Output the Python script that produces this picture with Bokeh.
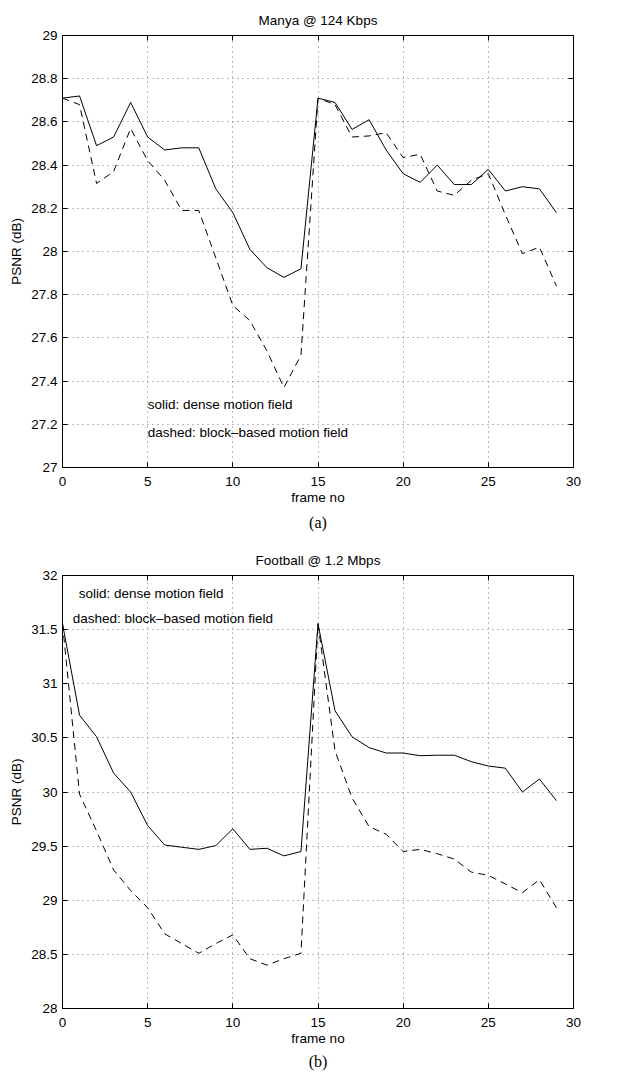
from bokeh.plotting import figure
from bokeh.models import LinearAxis, FixedTicker, Title, ColumnDataSource, CustomLabelingPolicy
from bokeh.layouts import column
from bokeh.core.properties import value
from bokeh.embed import file_html
from bokeh.resources import INLINE

frames = list(range(30))

manya_dense = [28.71, 28.72, 28.49, 28.53, 28.69, 28.53, 28.47, 28.48, 28.48, 28.29,
               28.18, 28.01, 27.925, 27.88, 27.92, 28.71, 28.69, 28.565, 28.61, 28.47,
               28.36, 28.32, 28.40, 28.31, 28.31, 28.38, 28.28, 28.30, 28.29, 28.18]
manya_block = [28.71, 28.68, 28.315, 28.37, 28.57, 28.42, 28.33, 28.19, 28.19, 27.97,
               27.75, 27.68, 27.54, 27.37, 27.52, 28.71, 28.68, 28.53, 28.535, 28.55,
               28.435, 28.45, 28.28, 28.26, 28.33, 28.36, 28.17, 27.99, 28.02, 27.84]

football_dense = [31.555, 30.71, 30.51, 30.175, 30.0, 29.69, 29.51, 29.49, 29.47, 29.505,
                  29.66, 29.47, 29.48, 29.41, 29.45, 31.555, 30.75, 30.51, 30.41, 30.36,
                  30.36, 30.335, 30.34, 30.34, 30.28, 30.24, 30.22, 30.0, 30.12, 29.92]
football_block = [31.555, 29.98, 29.64, 29.28, 29.09, 28.93, 28.69, 28.60, 28.51, 28.60,
                  28.68, 28.46, 28.40, 28.46, 28.51, 31.555, 30.38, 29.945, 29.68, 29.61,
                  29.45, 29.47, 29.43, 29.38, 29.26, 29.23, 29.15, 29.07, 29.19, 28.93]

x_ticks = [0, 5, 10, 15, 20, 25, 30]
x_tick_labels = ["0", "5", "10", "15", "20", "25", "30"]

manya_y_ticks = [27, 27.2, 27.4, 27.6, 27.8, 28, 28.2, 28.4, 28.6, 28.8, 29]
manya_y_labels = ["27", "27.2", "27.4", "27.6", "27.8", "28", "28.2", "28.4", "28.6", "28.8", "29"]
football_y_ticks = [28, 28.5, 29, 29.5, 30, 30.5, 31, 31.5, 32]
football_y_labels = ["28", "28.5", "29", "29.5", "30", "30.5", "31", "31.5", "32"]

manya_notes = ["solid: dense motion field", "dashed: block\u2013based motion field"]
manya_note_x = [5, 5]
manya_note_y = [27.29, 27.16]
football_notes = ["solid: dense motion field", "dashed: block\u2013based motion field"]
football_note_x = [0.95, 0.6]
football_note_y = [31.83, 31.6]

FONT = "Liberation Sans"
FS = "13.5px"

HIDE_CODE = """
const all = [];
for (const i of indices) all.push(i);
for (const i of all) indices.unset(i);
return indices;
"""


def style_axis(ax, label_size=FS):
    ax.major_tick_in = 5
    ax.major_tick_out = 0
    ax.minor_tick_in = 0
    ax.minor_tick_out = 0
    ax.axis_line_color = "black"
    ax.major_tick_line_color = "black"
    ax.major_label_text_font = FONT
    ax.major_label_text_font_size = label_size
    ax.major_label_text_color = "black"
    ax.axis_label_text_font = FONT
    ax.axis_label_text_font_style = "normal"
    ax.axis_label_text_font_size = FS
    ax.axis_label_text_color = "black"


def make_plot(title, dense, block, yticks, ylabels, yrange, notes, nx, ny, caption,
              height, below_border, cap_standoff):
    p = figure(width=613, height=height,
               x_range=(0, 30), y_range=yrange,
               output_backend="svg", toolbar_location=None,
               min_border_left=62, min_border_right=40, min_border_top=35,
               min_border_bottom=below_border,
               background_fill_color="white", border_fill_color="white")
    p.title.text = title
    p.title.align = "center"
    p.title.text_font = FONT
    p.title.text_font_size = FS
    p.title.text_font_style = "normal"
    p.title.text_color = "black"
    p.title.standoff = 7

    p.outline_line_color = "black"
    p.outline_line_width = 1

    xt = dict(zip(x_ticks, x_tick_labels))
    yt = dict(zip(yticks, ylabels))

    xax = p.below[0]
    yax = p.left[0]
    xax.ticker = FixedTicker(ticks=x_ticks)
    xax.major_label_overrides = xt
    xax.axis_label = "frame no"
    xax.axis_label_standoff = 1
    xax.major_label_standoff = 9
    yax.ticker = FixedTicker(ticks=yticks)
    yax.major_label_overrides = yt
    yax.axis_label = "PSNR (dB)"
    yax.axis_label_standoff = 4
    yax.major_label_standoff = 5
    style_axis(xax)
    style_axis(yax)

    right = LinearAxis(ticker=FixedTicker(ticks=yticks), major_label_standoff=0,
                       major_label_policy=CustomLabelingPolicy(code=HIDE_CODE))
    top = LinearAxis(ticker=FixedTicker(ticks=x_ticks), major_label_standoff=0,
                     major_label_policy=CustomLabelingPolicy(code=HIDE_CODE))
    style_axis(right, "1px")
    style_axis(top, "1px")
    p.add_layout(right, "right")
    p.add_layout(top, "above")

    for g in p.grid:
        g.grid_line_color = "#777777"
        g.grid_line_dash = "1 4"
        g.grid_line_width = 1

    src = ColumnDataSource(dict(x=frames, dense=dense, block=block))
    p.line("x", "dense", source=src, line_color="black", line_width=1)
    p.line("x", "block", source=src, line_color="black", line_width=1, line_dash="7 5")

    tsrc = ColumnDataSource(dict(x=nx, y=ny, t=notes))
    p.text("x", "y", text="t", source=tsrc, text_font=value(FONT), text_font_size=FS,
           text_baseline="middle", text_align="left", text_color="black")

    cap = Title(text=caption, align="center", text_font="Liberation Serif",
                text_font_size="16px", text_font_style="normal", text_color="black",
                standoff=cap_standoff)
    p.add_layout(cap, "below")
    return p


p1 = make_plot("Manya @ 124 Kbps", manya_dense, manya_block, manya_y_ticks, manya_y_labels,
               (27, 29), manya_notes, manya_note_x, manya_note_y, "(a)", 540, 73, 9)
p2 = make_plot("Football @ 1.2 Mbps", football_dense, football_block, football_y_ticks,
               football_y_labels, (28, 32), football_notes, football_note_x, football_note_y,
               "(b)", 535, 67, 5)

layout = column(p1, p2, spacing=0)
open("out.html", "w").write(file_html(layout, INLINE))
